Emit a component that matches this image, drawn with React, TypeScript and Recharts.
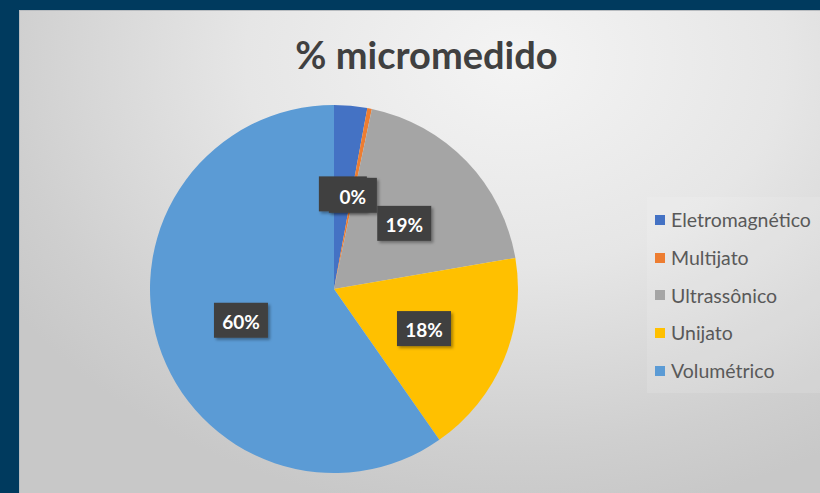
import * as React from 'react';
import { PieChart, Pie, Cell, Legend } from 'recharts';

const categories = ['Eletromagnético', 'Multijato', 'Ultrassônico', 'Unijato', 'Volumétrico'];
const shares = [2.9, 0.4, 19, 18, 59.7];
const colors = ['#4472C4', '#ED7D31', '#A5A5A5', '#FFC000', '#5B9BD5'];

const data = categories.map((name, i) => ({ name, value: shares[i] }));

const RADIAN = Math.PI / 180;

const renderLabel = (props: any) => {
    const { cx, cy, midAngle, outerRadius, percent } = props;
    const r = outerRadius * 0.53;
    const x = cx + r * Math.cos(-midAngle * RADIAN);
    const y = cy + r * Math.sin(-midAngle * RADIAN) + 2;
    const txt = Math.round(percent * 100) + '%';
    const w = txt.length > 2 ? 54 : 48;
    const h = 35;
    return (
        <g>
            <rect
                x={x - w / 2}
                y={y - h / 2}
                width={w}
                height={h}
                fill="#404040"
                filter="url(#lblShadow)"
            />
            <text
                x={x}
                y={y + 1}
                fill="#fff"
                fontSize={19}
                fontWeight={700}
                fontFamily="Lato, 'Noto Sans', sans-serif"
                textAnchor="middle"
                dominantBaseline="central"
            >
                {txt}
            </text>
        </g>
    );
};

const renderLegend = (props: any) => {
    const { payload } = props;
    return (
        <div style={{ padding: '4px 8px', background: 'rgba(255,255,255,0.12)' }}>
            {payload.map((entry: any, i: number) => (
                <div
                    key={i}
                    style={{
                        display: 'flex',
                        alignItems: 'center',
                        height: 37.7,
                        fontFamily: "Lato, 'Noto Sans', sans-serif",
                        fontSize: 19.5,
                        color: '#595959',
                        whiteSpace: 'nowrap'
                    }}
                >
                    <span
                        style={{
                            display: 'inline-block',
                            width: 10,
                            height: 10,
                            background: entry.color,
                            marginRight: 6
                        }}
                    />
                    {entry.value}
                </div>
            ))}
        </div>
    );
};

const App = () => {
    return (
        <div
            style={{
                position: 'absolute',
                left: 0,
                top: 0,
                width: 820,
                height: 493,
                background: '#003A5E',
                overflow: 'hidden'
            }}
        >
            <div
                style={{
                    position: 'absolute',
                    left: 19,
                    top: 10,
                    width: 801,
                    height: 483,
                    borderTop: '1px solid #b8bcc0',
                    borderLeft: '1px solid #b8bcc0',
                    boxSizing: 'border-box',
                    background:
                        'radial-gradient(ellipse 75% 95% at 62% 10%, #f4f4f4 0%, #e6e6e6 45%, #cfcfcf 85%, #c8c8c8 100%)'
                }}
            >
                <div
                    style={{
                        position: 'absolute',
                        left: 0,
                        width: 801,
                        top: 20,
                        textAlign: 'center',
                        paddingLeft: 12,
                        boxSizing: 'border-box',
                        fontFamily: "Lato, 'Noto Sans', sans-serif",
                        fontWeight: 700,
                        fontSize: 38,
                        color: '#404040'
                    }}
                >
                    % micromedido
                </div>
                <PieChart width={801} height={483}>
                    <defs>
                        <filter id="lblShadow" x="-20%" y="-20%" width="150%" height="160%">
                            <feDropShadow dx="2" dy="2" stdDeviation="1.5" floodColor="#000" floodOpacity="0.35" />
                        </filter>
                    </defs>
                    <Pie
                        data={data}
                        dataKey="value"
                        nameKey="name"
                        cx={309}
                        cy={273}
                        outerRadius={184}
                        startAngle={90}
                        endAngle={-270}
                        stroke="none"
                        labelLine={false}
                        label={renderLabel}
                        isAnimationActive={false}
                    >
                        {data.map((d, i) => (
                            <Cell key={d.name} fill={colors[i]} />
                        ))}
                    </Pie>
                    <Legend
                        layout="vertical"
                        content={renderLegend}
                        wrapperStyle={{ position: 'absolute', left: 627, top: 186, width: 174 }}
                    />
                </PieChart>
            </div>
        </div>
    );
};

export default App;
